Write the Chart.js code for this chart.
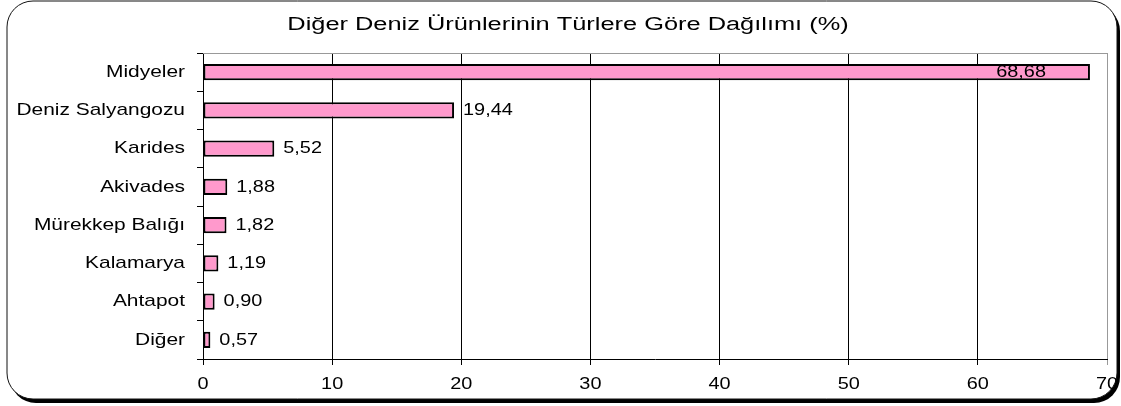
<!DOCTYPE html>
<html>
<head>
<meta charset="utf-8">
<script src="https://cdn.jsdelivr.net/npm/chart.js@4"></script>
<style>
  html, body { margin: 0; padding: 0; background: #fff; }
  #wrap { width: 1121px; height: 406px; }
</style>
</head>
<body>
<div id="wrap"><canvas id="chart" width="1121" height="406"></canvas></div>
<script>
const chartTitle = "Diğer Deniz Ürünlerinin Türlere Göre Dağılımı (%)";
const categories = ["Midyeler", "Deniz Salyangozu", "Karides", "Akivades", "Mürekkep Balığı", "Kalamarya", "Ahtapot", "Diğer"];
const shares = [68.68, 19.44, 5.52, 1.88, 1.82, 1.19, 0.90, 0.57];
const xTicks = [0, 10, 20, 30, 40, 50, 60, 70];

const FONT = "'Liberation Sans', Arial, sans-serif";
const HIDDEN = "rgba(0,0,0,0)";

// the original text is rendered wide, so draw it with a horizontal stretch
function wideText(ctx, text, x, y, align, size, sx) {
  ctx.save();
  ctx.font = size + "px " + FONT;
  ctx.fillStyle = "#000";
  ctx.textBaseline = "middle";
  ctx.textAlign = align;
  ctx.translate(x, y);
  ctx.scale(sx, 1);
  ctx.fillText(text, 0, 0);
  ctx.restore();
}

const framePlugin = {
  id: "frame",
  beforeDraw(chart) {
    const ctx = chart.ctx;
    const x = 7, y = 1, w = 1110, h = 398, r = 26;
    ctx.save();
    ctx.fillStyle = "#000";
    ctx.beginPath();
    ctx.roundRect(x + 3, y + 4, w, h, r);
    ctx.fill();
    ctx.fillStyle = "#fff";
    ctx.strokeStyle = "#111";
    ctx.lineWidth = 1;
    ctx.beginPath();
    ctx.roundRect(x, y, w, h, r);
    ctx.fill();
    ctx.stroke();
    ctx.restore();
    wideText(ctx, chartTitle, 568, 25, "center", 18, 1.41);
  },
  afterDraw(chart) {
    const ctx = chart.ctx;
    const area = chart.chartArea;
    const xs = chart.scales.x, ys = chart.scales.y;
    ctx.save();
    ctx.strokeStyle = "#999";
    ctx.lineWidth = 1;
    ctx.beginPath();
    ctx.moveTo(area.left, area.top + 0.5);
    ctx.lineTo(area.right, area.top + 0.5);
    ctx.stroke();
    ctx.restore();

    // category labels
    categories.forEach((c, i) => {
      wideText(ctx, c, area.left - 18, ys.getPixelForValue(i), "right", 17, 1.23);
    });
    // x tick labels
    xTicks.forEach((v) => {
      wideText(ctx, String(v), xs.getPixelForValue(v), area.bottom + 25, "center", 17, 1.17);
    });
    // value labels
    const meta = chart.getDatasetMeta(0);
    meta.data.forEach((bar, i) => {
      const txt = shares[i].toFixed(2).replace(".", ",");
      if (shares[i] > 50) {
        wideText(ctx, txt, bar.x - 44, bar.y, "right", 17, 1.17);
      } else {
        wideText(ctx, txt, bar.x + 9, bar.y, "left", 17, 1.17);
      }
    });
  }
};

new Chart(document.getElementById("chart"), {
  type: "bar",
  data: {
    labels: categories,
    datasets: [{
      data: shares,
      backgroundColor: "#ff99cc",
      borderColor: "#000",
      borderWidth: 2,
      borderSkipped: false,
      barPercentage: 0.43,
      categoryPercentage: 1
    }]
  },
  options: {
    indexAxis: "y",
    responsive: false,
    animation: false,
    layout: { padding: { left: 10, right: 14, top: 53, bottom: 0 } },
    plugins: {
      legend: { display: false },
      title: { display: false },
      tooltip: { enabled: false }
    },
    scales: {
      x: {
        min: 0,
        max: 70,
        afterBuildTicks: (s) => { s.ticks = xTicks.map((v) => ({ value: v })); },
        afterFit: (s) => { s.height = 47; },
        ticks: { color: HIDDEN, font: { family: FONT, size: 15 }, maxRotation: 0 },
        grid: {
          color: (c) => (c.tick && c.tick.value === 70 ? "#999" : "#000"),
          lineWidth: 1,
          tickLength: 6
        },
        border: { color: "#000", width: 1 }
      },
      y: {
        afterFit: (s) => { s.width = 193; },
        ticks: { color: HIDDEN, font: { family: FONT, size: 15 } },
        grid: { drawOnChartArea: false, tickLength: 6, color: "#000", offset: true },
        border: { color: "#000", width: 1 }
      }
    }
  },
  plugins: [framePlugin]
});
</script>
</body>
</html>
